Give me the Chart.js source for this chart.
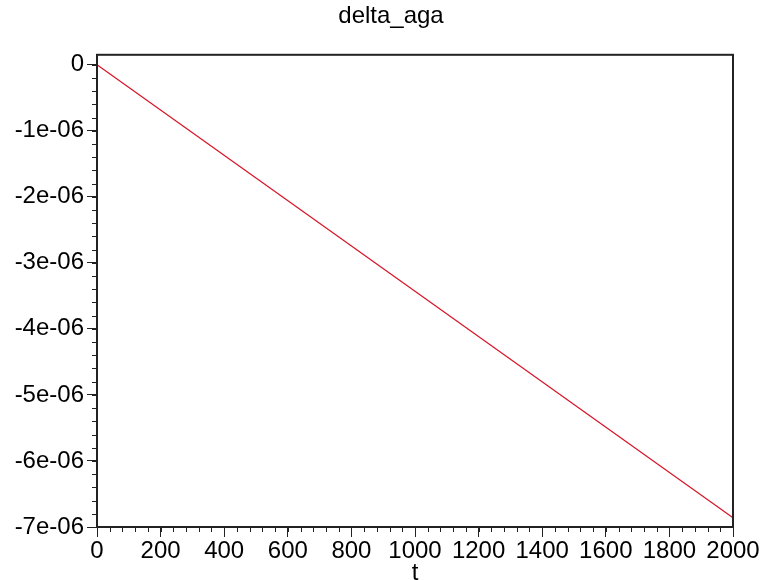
<!DOCTYPE html>
<html lang="en">
<head>
    <meta charset="UTF-8">
    <title>delta_aga</title>
    <script src="https://cdn.jsdelivr.net/npm/chart.js"></script>
    <style>
        html, body {
            margin: 0;
            padding: 0;
            background: #fff;
        }

        .chart-container {
            width: 762px;
            height: 580px;
        }
    </style>
</head>
<body>
    <div class="chart-container">
        <canvas id="plot"></canvas>
    </div>
    <script>
        // values
        const tValues = [0, 2000];
        const deltaAga = [0, -6.86e-06];

        // axis ranges and tick spacing
        const xRange = [0, 2000];
        const yRange = [-7e-06, 1.5e-07];
        const xMajor = 200, xMinor = 40;
        const yMajor = 1e-06, yMinor = 2e-07;

        const fontFamily = '"Liberation Sans", Arial, sans-serif';

        function yLabel(v) {
            const n = Math.round(v / 1e-06);
            return n === 0 ? '0' : n + 'e-06';
        }

        // box around the plot area plus the short minor ticks
        const frameAndMinorTicks = {
            id: 'frameAndMinorTicks',
            afterLayout(chart) {
                // the title sits a little right of the page centre
                chart.titleBlock.left = 20;
                chart.titleBlock.right = chart.width;
            },
            afterDraw(chart) {
                const { ctx, chartArea: a, scales } = chart;
                ctx.save();
                ctx.strokeStyle = '#222';
                ctx.lineWidth = 1;
                ctx.beginPath();
                for (let v = xRange[0]; v <= xRange[1] + 1e-9; v += xMinor) {
                    const px = Math.round(scales.x.getPixelForValue(v)) + 0.5;
                    ctx.moveTo(px, a.bottom);
                    ctx.lineTo(px, a.bottom + 5);
                }
                for (let i = 0; ; i++) {
                    const v = -i * yMinor;
                    if (v < yRange[0] - 1e-12) break;
                    const py = Math.round(scales.y.getPixelForValue(v)) + 0.5;
                    ctx.moveTo(a.left, py);
                    ctx.lineTo(a.left - 5, py);
                }
                ctx.stroke();
                ctx.lineWidth = 2;
                ctx.strokeRect(a.left, a.top, a.right - a.left, a.bottom - a.top);
                ctx.restore();
            }
        };

        const ctx = document.getElementById('plot').getContext('2d');
        new Chart(ctx, {
            type: 'line',
            data: {
                labels: tValues,
                datasets: [{
                    data: tValues.map((t, i) => ({ x: t, y: deltaAga[i] })),
                    borderColor: 'rgb(215, 20, 40)',
                    borderWidth: 1.2,
                    pointRadius: 0,
                    tension: 0,
                    fill: false
                }]
            },
            options: {
                responsive: true,
                maintainAspectRatio: false,
                animation: false,
                layout: {
                    padding: { left: 0, right: 29, top: 0, bottom: 0 }
                },
                plugins: {
                    legend: { display: false },
                    tooltip: { enabled: false },
                    title: {
                        display: true,
                        text: 'delta_aga',
                        color: '#000',
                        font: { family: fontFamily, size: 24, weight: 'normal' },
                        padding: { top: 2, bottom: 24 }
                    }
                },
                scales: {
                    x: {
                        type: 'linear',
                        min: xRange[0],
                        max: xRange[1],
                        border: { display: true, color: '#222', width: 2 },
                        grid: {
                            drawOnChartArea: false,
                            drawTicks: true,
                            tickLength: 10,
                            tickColor: '#222',
                            tickWidth: 1
                        },
                        ticks: {
                            stepSize: xMajor,
                            color: '#000',
                            padding: 0,
                            maxRotation: 0,
                            autoSkip: false,
                            font: { family: fontFamily, size: 24 },
                            callback: v => String(v)
                        },
                        title: {
                            display: true,
                            text: 't',
                            color: '#000',
                            font: { family: fontFamily, size: 24 },
                            padding: { top: 0, bottom: -8 }
                        },
                        afterFit(scale) {
                            scale.height = 53;
                        }
                    },
                    y: {
                        type: 'linear',
                        min: yRange[0],
                        max: yRange[1],
                        border: { display: true, color: '#222', width: 2 },
                        grid: {
                            drawOnChartArea: false,
                            drawTicks: true,
                            tickLength: 10,
                            tickColor: '#222',
                            tickWidth: 1
                        },
                        ticks: {
                            stepSize: yMajor,
                            includeBounds: false,
                            color: '#000',
                            padding: 3,
                            autoSkip: false,
                            font: { family: fontFamily, size: 24 },
                            callback: yLabel
                        },
                        afterFit(scale) {
                            scale.width = 97;
                        }
                    }
                }
            },
            plugins: [frameAndMinorTicks]
        });
    </script>
</body>
</html>
